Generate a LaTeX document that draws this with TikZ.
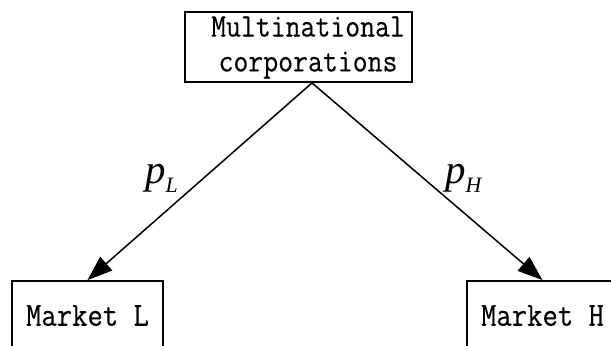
\documentclass[tikz,border=0pt]{standalone}
\usepackage{fontspec}
\newfontfamily\lblfont{Liberation Serif}
\newfontfamily\boxfont[FakeStretch=0.88,FakeBold=0.3]{Latin Modern Mono}
\usetikzlibrary{arrows.meta,calc}
\begin{document}
\begin{tikzpicture}[x=1bp,y=-1bp,
  box/.style={draw, line width=1.8bp, inner sep=0pt},
  topfont/.style={font=\boxfont\fontsize{33}{35}\selectfont},
  botfont/.style={font=\boxfont\fontsize{34}{35}\selectfont},
  conn/.style={line width=1.5bp, -{Triangle[length=25bp,width=18bp]}},
  lbl/.style={font=\lblfont\itshape\fontsize{41}{41}\selectfont, inner sep=0pt, anchor=base west}]
\useasboundingbox (0,0) rectangle (611,345);
\clip (0,0) rectangle (611,345);
\node[box, topfont, minimum width=227bp, minimum height=70bp] (top) at (298.5,47)
  {\hspace*{19bp}\begin{tabular}{@{}c@{}}Multinational\\corporations\end{tabular}};
\node[box, botfont, minimum width=151bp, minimum height=69bp] (mL) at (87.5,315.5) {Market L};
\node[box, botfont, minimum width=151bp, minimum height=69bp] (mH) at (542.5,315.5) {Market H};
\coordinate (apex) at ($(top.south)+(13.5,0)$);
\draw[conn] (apex) -- (mL.north);
\draw[conn] (apex) -- (mH.north);
\node[lbl] (pL) at (145,183) {p\raisebox{-9bp}{\fontsize{22}{22}\selectfont L}};
\node[lbl] (pH) at (445,183) {p\raisebox{-9bp}{\fontsize{22}{22}\selectfont H}};
\end{tikzpicture}
\end{document}
